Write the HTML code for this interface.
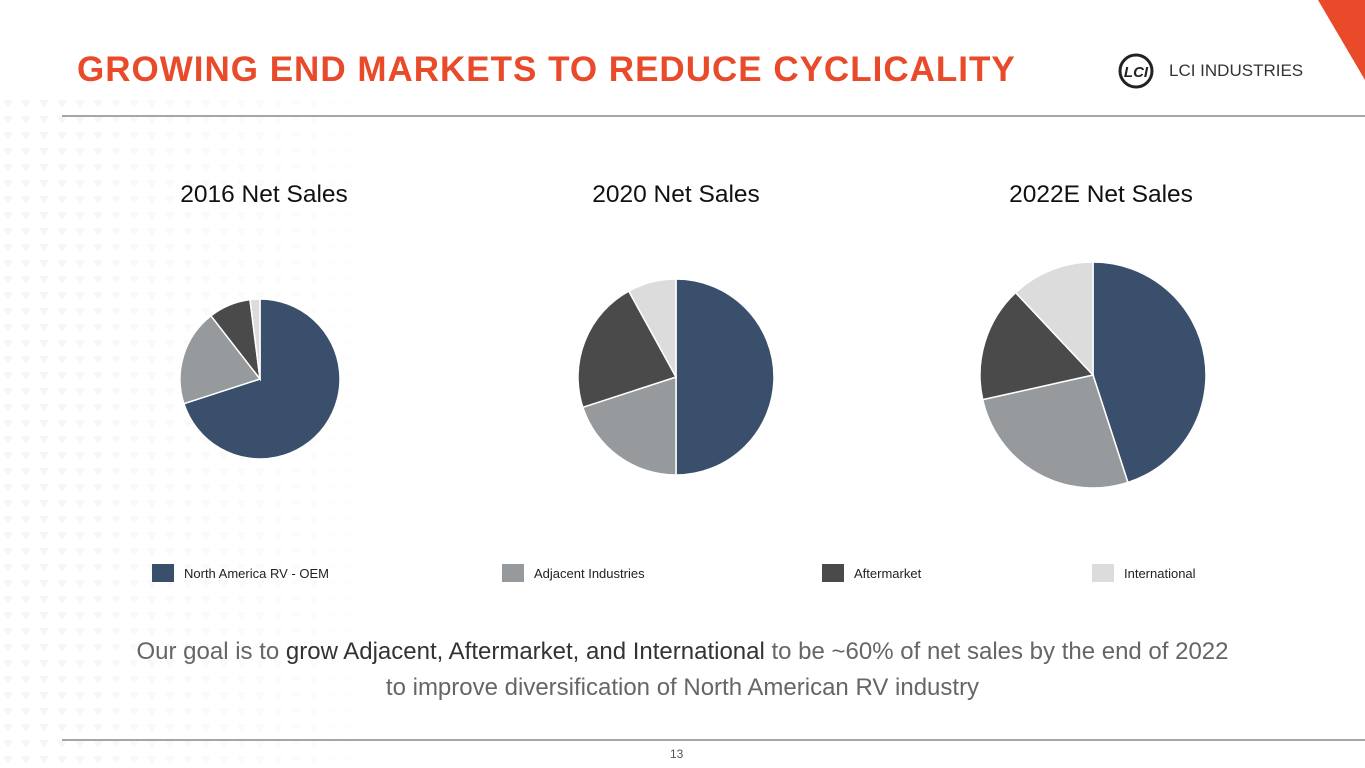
<!DOCTYPE html>
<html><head><meta charset="utf-8"><style>
body{margin:0;width:1365px;height:768px;overflow:hidden;background:#fff;font-family:"Liberation Sans",sans-serif;position:relative}
.abs{position:absolute}
.title{left:77px;top:50px;font-size:35px;font-weight:bold;color:#e84a2a;letter-spacing:1px}
.ct{font-size:24.5px;color:#111;text-align:center;width:300px;top:181px}
.leg{top:564px;font-size:13px;color:#222;display:flex;align-items:center}
.sw{width:22px;height:18px;margin-right:10px}
</style></head><body>
<svg class="abs" style="left:0;top:0" width="1365" height="768">
<defs><pattern id="tri" width="18" height="16" patternUnits="userSpaceOnUse"><polygon points="3,4 13,4 8,12" fill="#f5f5f5"/></pattern>
<linearGradient id="fade" x1="0" x2="1"><stop offset="0" stop-color="#fff" stop-opacity="0"/><stop offset="0.6" stop-color="#fff" stop-opacity="1"/></linearGradient></defs>
<rect x="0" y="100" width="700" height="668" fill="url(#tri)"/>
<rect x="0" y="100" width="700" height="668" fill="url(#fade)"/>
<polygon points="1318,0 1365,0 1365,80" fill="#e84a2a"/>
<line x1="62" y1="116" x2="1365" y2="116" stroke="#a6a6a6" stroke-width="2"/>
<line x1="62" y1="740" x2="1365" y2="740" stroke="#a6a6a6" stroke-width="2"/>
</svg>
<div class="abs title">GROWING END MARKETS TO REDUCE CYCLICALITY</div>
<svg class="abs" style="left:1117px;top:52px" width="38" height="38"><circle cx="19" cy="19" r="16" fill="none" stroke="#222" stroke-width="3"/><text x="19" y="25" text-anchor="middle" font-size="15" font-weight="bold" font-style="italic" fill="#222">LCI</text></svg>
<div class="abs" style="left:1169px;top:61px;font-size:17px;color:#333">LCI INDUSTRIES</div>
<div class="abs ct" style="left:114px">2016 Net Sales</div>
<div class="abs ct" style="left:526px">2020 Net Sales</div>
<div class="abs ct" style="left:951px">2022E Net Sales</div>
<svg id="pies" class="abs" style="left:0;top:0" width="1365" height="768"></svg>
<div class="abs leg" style="left:152px"><div class="sw" style="background:#3a4f6c"></div>North America RV - OEM</div>
<div class="abs leg" style="left:502px"><div class="sw" style="background:#979a9c"></div>Adjacent Industries</div>
<div class="abs leg" style="left:822px"><div class="sw" style="background:#4a4a4a"></div>Aftermarket</div>
<div class="abs leg" style="left:1092px"><div class="sw" style="background:#dcdcdc"></div>International</div>
<div class="abs" style="left:0;width:1365px;top:634px;text-align:center;font-size:24px;line-height:36px;color:#666">Our goal is to <span style="color:#333">grow Adjacent, Aftermarket, and International</span> to be ~60% of net sales by the end of 2022<br>to improve diversification of North American RV industry</div>
<div class="abs" style="left:670px;top:747px;font-size:12px;color:#555">13</div>
<script>
const categories=["North America RV - OEM","Adjacent Industries","Aftermarket","International"];
const colors=["#3a4f6c","#979a9c","#4a4a4a","#dcdcdc"];
const years=["2016","2020","2022E"];
const values2016=[70,19.5,8.5,2];
const values2020=[50,20,22,8];
const values2022=[45,26.5,16.5,12];
const series=[values2016,values2020,values2022];
const geo=[[260,379,80],[676,377,98],[1093,375,113]];
const svg=document.getElementById('pies');
const NS="http://www.w3.org/2000/svg";
series.forEach((vals,i)=>{
  const [cx,cy,r]=geo[i];const tot=vals.reduce((a,b)=>a+b,0);let a0=0;
  vals.forEach((v,j)=>{
    const a1=a0+v/tot*2*Math.PI;
    const x0=cx+r*Math.sin(a0),y0=cy-r*Math.cos(a0),x1=cx+r*Math.sin(a1),y1=cy-r*Math.cos(a1);
    const p=document.createElementNS(NS,'path');
    p.setAttribute('d',`M${cx},${cy}L${x0},${y0}A${r},${r} 0 ${a1-a0>Math.PI?1:0} 1 ${x1},${y1}Z`);
    p.setAttribute('fill',colors[j]);p.setAttribute('stroke','#fff');p.setAttribute('stroke-width','1.5');
    
    
    svg.appendChild(p);a0=a1;
  });
});
</script>
</body></html>
